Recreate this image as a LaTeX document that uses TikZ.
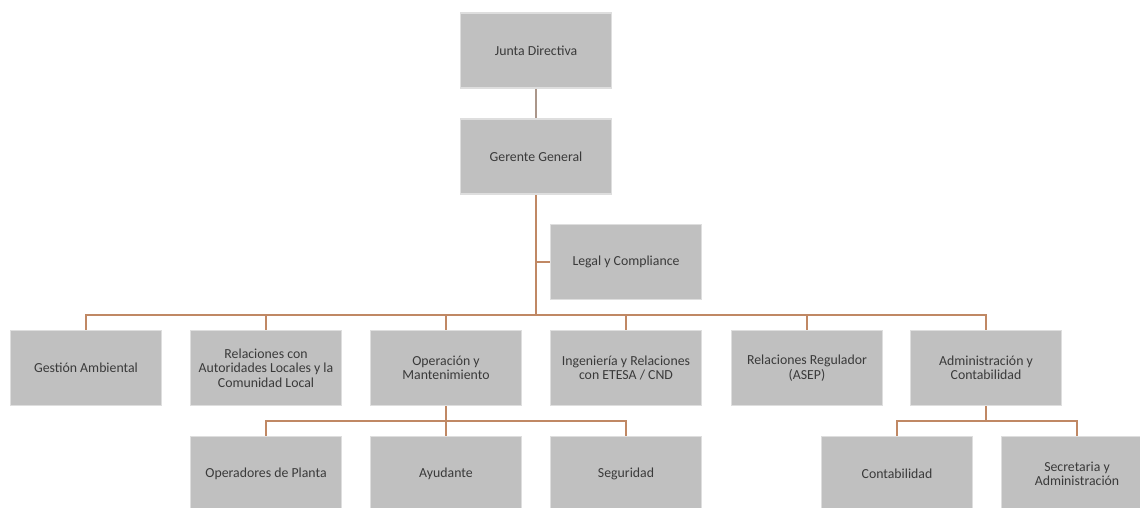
\documentclass[tikz,border=0pt]{standalone}
\usepackage{fontspec}
\setmainfont{Carlito}
\definecolor{boxgray}{RGB}{192,192,192}
\definecolor{boxedge}{RGB}{222,222,222}
\definecolor{txt}{RGB}{58,58,58}
\definecolor{conn}{RGB}{192,136,100}
\definecolor{conntop}{RGB}{170,150,138}
\begin{document}
\begin{tikzpicture}[x=1pt,y=-1pt,
  orgbox/.style={rectangle, fill=boxgray, draw=boxedge, line width=1.6pt,
    minimum width=151pt, minimum height=75pt, inner sep=2pt, align=center,
    text=txt, font=\fontsize{13.8}{14.5}\selectfont},
  link/.style={draw=conn, line width=2.8pt},
  linktop/.style={draw=conntop, line width=2.8pt}]
\useasboundingbox (0,0) rectangle (1140,508);
\clip (0,0) rectangle (1140,508);
\coordinate (jd) at (536,50.5);
\coordinate (gg) at (536,156.5);
\coordinate (bus) at (536,315);
\node[orgbox] (junta) at (jd) {Junta Directiva};
\node[orgbox] (gerente) at (gg) {Gerente General};
\node[orgbox] (legal) at (626,262) {Legal y Compliance};
\node[orgbox] (ga) at (86,368) {Gestión Ambiental};
\node[orgbox] (rel) at (266,368) {Relaciones con\\Autoridades Locales y la\\Comunidad Local};
\node[orgbox] (om) at (446,368) {Operación y\\Mantenimiento};
\node[orgbox] (ing) at (626,368) {Ingeniería y Relaciones\\con ETESA / CND};
\node[orgbox] (reg) at (807,368) {Relaciones Regulador\\(ASEP)};
\node[orgbox] (adm) at (986,368) {Administración y\\Contabilidad};
\node[orgbox] (op) at (266,474) {Operadores de Planta};
\node[orgbox] (ay) at (446,474) {Ayudante};
\node[orgbox] (seg) at (626,474) {Seguridad};
\node[orgbox] (con) at (897,474) {Contabilidad};
\node[orgbox] (sec) at (1077,474) {Secretaria y\\Administración};
\coordinate (ombus) at (446,421);
\coordinate (admbus) at (986,421);
\path[linktop] (junta.south) -- (gerente.north);
\path[link] (gerente.south) -- (bus);
\path[link] (gerente.south |- legal.west) -- (legal.west);
\foreach \n in {ga,rel,om,ing,reg,adm} \path[link] (bus) -| (\n.north);
\path[link] (om.south) -- (ombus);
\foreach \n in {op,ay,seg} \path[link] (ombus) -| (\n.north);
\path[link] (adm.south) -- (admbus);
\foreach \n in {con,sec} \path[link] (admbus) -| (\n.north);
\end{tikzpicture}
\end{document}
